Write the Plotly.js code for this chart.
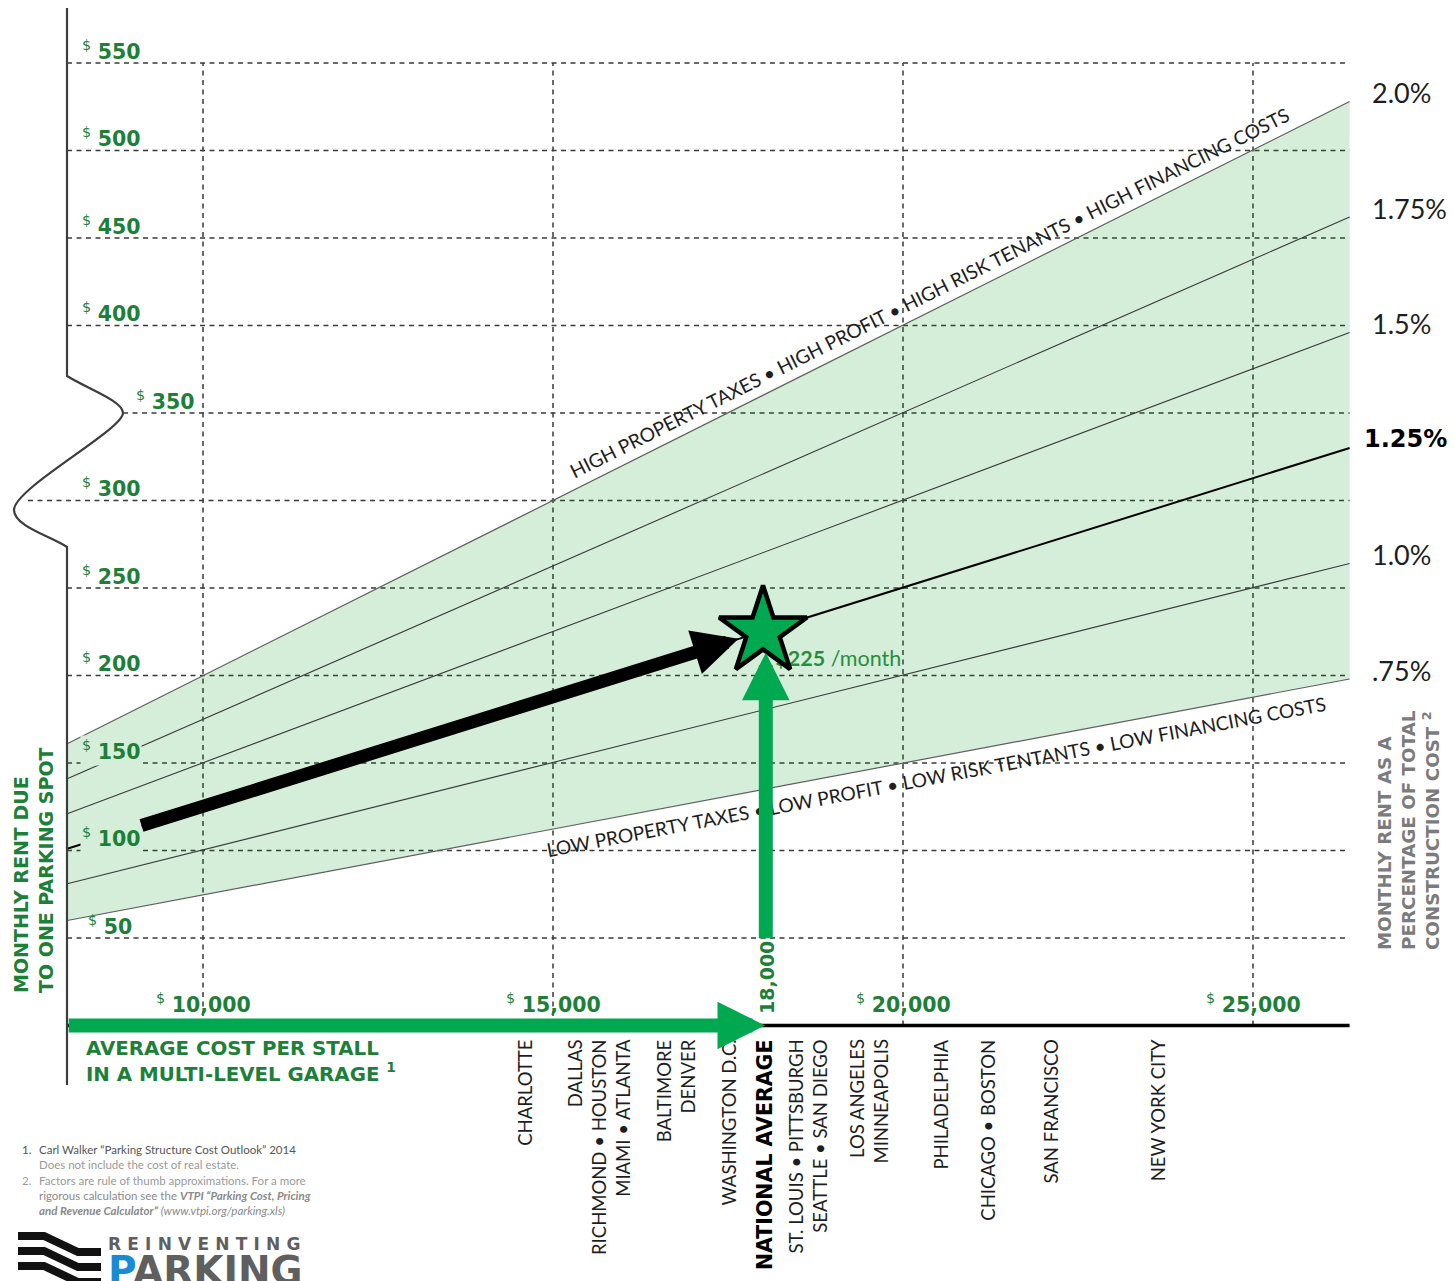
<!DOCTYPE html>
<html><head><meta charset="utf-8">
<script src="https://cdn.plot.ly/plotly-3.0.1.min.js"></script>
<style>html,body{margin:0;padding:0;background:#fff}#chart{width:1454px;height:1281px}</style>
</head><body><div id="chart"></div>
<script>
// ---------------- data ----------------
const rentTicks = [50, 100, 150, 200, 250, 300, 350, 400, 450, 500, 550];
const costTicks = [10000, 15000, 20000, 25000];
const costTickText = ['10,000', '15,000', '20,000', '25,000'];
const costEnds = [8060, 26380];
const rent075 = [60, 198];
const rent100 = [81, 264];
const rent125 = [101, 330];
const rent150 = [121, 396];
const rent175 = [141, 462];
const rent200 = [161, 528];
const pctLabels = ['.75%', '1.0%', '1.25%', '1.5%', '1.75%', '2.0%'];
const nationalCost = [18000];
const nationalRent = [225];
const nationalLabel = ['<b>$225</b> /month'];
const cityNames = [
  'CHARLOTTE',
  'DALLAS<br>RICHMOND • HOUSTON<br>MIAMI • ATLANTA',
  'BALTIMORE<br>DENVER',
  'WASHINGTON D.C.',
  'NATIONAL AVERAGE',
  'ST. LOUIS • PITTSBURGH<br>SEATTLE • SAN DIEGO',
  'LOS ANGELES<br>MINNEAPOLIS',
  'PHILADELPHIA',
  'CHICAGO • BOSTON',
  'SAN FRANCISCO',
  'NEW YORK CITY'
];
const cityCost = [14590, 15650, 16760, 17500, 18030, 18630, 19500, 20530, 21210, 22100, 23640];
const blackArrowCost = [9100, 17650];
const blackArrowRent = [114, 221];
const upArrowCost = [18040, 18040];
const upArrowRent = [49, 213];
const rightArrowCost = [8060, 18030];
const rightArrowRent = [0, 0];
const highText = 'HIGH PROPERTY TAXES • HIGH PROFIT • HIGH RISK TENANTS • HIGH FINANCING COSTS';
const lowText = 'LOW PROPERTY TAXES • LOW PROFIT • LOW RISK TENTANTS • LOW FINANCING COSTS';

// ---------------- geometry helpers ----------------
const W = 1454, H = 1281;
const PXperCost = 0.07, PXperRent = 1.75;
const X = px => 10000 + (px - 203) / PXperCost;
const Y = py => (1025.5 - py) / PXperRent;
const PX = px => px / W;
const PY = py => 1 - py / H;
const lerp = (arr, c) => arr[0] + (arr[1] - arr[0]) * (c - costEnds[0]) / (costEnds[1] - costEnds[0]);
const angleOf = arr => -Math.atan((arr[1] - arr[0]) * PXperRent / ((costEnds[1] - costEnds[0]) * PXperCost)) * 180 / Math.PI;
const boldLines = s => s.split('<br>').map(l => '<b>' + l + '</b>').join('<br>');

const FONT = 'Lato, "Open Sans", sans-serif';
const HEAVY = '"DejaVu Sans", Lato, sans-serif';
const GREEN_TXT = '#1d8039';
const GREEN = '#00a94f';
const BAND_SOLID = 'rgb(213,238,218)';

// ---------------- traces ----------------
const lineTrace = (ys, color, width) => ({
  x: costEnds, y: ys, type: 'scatter', mode: 'lines',
  line: {color: color, width: width}, hoverinfo: 'skip', showlegend: false
});
const traces = [];
traces.push(lineTrace(rent075, '#5e5e5e', 1.2));
const upper = lineTrace(rent200, '#5e5e5e', 1.2);
upper.fill = 'tonexty';
upper.fillcolor = 'rgba(0,150,30,0.165)';
traces.push(upper);
traces.push(lineTrace(rent100, '#3a3a3a', 1.1));
traces.push(lineTrace(rent150, '#3a3a3a', 1.1));
traces.push(lineTrace(rent175, '#3a3a3a', 1.1));
traces.push(lineTrace(rent125, '#000000', 2));
traces.push({
  x: [nationalCost[0] + 175], y: [nationalRent[0] - 16.7], text: nationalLabel,
  type: 'scatter', mode: 'text', textposition: 'middle right',
  textfont: {family: FONT, size: 21.5, color: '#2a8c40'}, hoverinfo: 'skip', showlegend: false
});
traces.push({
  x: nationalCost, y: nationalRent, type: 'scatter', mode: 'markers',
  marker: {symbol: 'star', size: 66, color: GREEN, line: {color: '#000', width: 4.5}},
  hoverinfo: 'skip', showlegend: false
});

// ---------------- shapes ----------------
const shapes = [];
const gridLine = {color: '#3a3a3a', width: 1.5, dash: '5px,4.5px'};
rentTicks.forEach(v => {
  let startPx = 67;
  if (v === 350) startPx = 123;
  if (v === 300) startPx = 28;
  shapes.push({type: 'line', layer: 'below', x0: X(startPx), x1: costEnds[1], y0: v, y1: v, line: gridLine});
});
costTicks.forEach(c => {
  shapes.push({type: 'line', layer: 'below', x0: c, x1: c, y0: 0, y1: rentTicks[rentTicks.length - 1], line: gridLine});
});
// x axis line
shapes.push({type: 'line', layer: 'above', x0: costEnds[0], x1: costEnds[1], y0: 0, y1: 0, line: {color: '#000', width: 3.5}});
// left axis with break squiggle
const P = (px, py) => X(px) + ',' + Y(py);
const axisPath = 'M' + P(67, 8) + ' L' + P(67, 376) +
  ' C' + P(88, 389) + ' ' + P(123, 401) + ' ' + P(123, 413) +
  ' C' + P(123, 430) + ' ' + P(14, 488) + ' ' + P(14, 510) +
  ' C' + P(14, 526) + ' ' + P(50, 536) + ' ' + P(67, 547) +
  ' L' + P(67, 1085);
shapes.push({type: 'path', layer: 'above', path: axisPath, line: {color: '#3d3d3d', width: 2.2}});
// logo stripes
[0, 15, 30].forEach(o => {
  const q = (px, py) => PX(px) + ',' + PY(py + o);
  shapes.push({type: 'path', xref: 'paper', yref: 'paper', layer: 'above',
    path: 'M' + q(18, 1236) + ' L' + q(44, 1236) + ' L' + q(78, 1252) + ' L' + q(101, 1252),
    line: {color: '#111', width: 8}});
});

// ---------------- annotations ----------------
const ann = [];
// y tick labels
const labelCost = X(110);
rentTicks.forEach(v => {
  let px = 80;
  if (v === 350) px = 134;
  if (v === 50) px = 86;
  const inBand = v > lerp(rent075, labelCost) && v < lerp(rent200, labelCost);
  ann.push({x: X(px), y: v, text: '<sup>$</sup> <b>' + v + '</b>', showarrow: false,
    xanchor: 'left', yanchor: 'middle', yshift: 13, borderpad: 1,
    bgcolor: inBand ? BAND_SOLID : 'rgba(0,0,0,0)',
    font: {family: HEAVY, size: 20.5, color: GREEN_TXT}});
});
// x tick labels
costTicks.forEach((c, i) => {
  ann.push({x: c, y: 0, text: '<sup>$</sup> <b>' + costTickText[i] + '</b>', showarrow: false,
    xanchor: 'center', yanchor: 'middle', yshift: 22,
    font: {family: HEAVY, size: 20.5, color: GREEN_TXT}});
});
ann.push({x: nationalCost[0], y: 0, text: '<b>18,000</b>', textangle: -90, showarrow: false,
  xanchor: 'center', yanchor: 'bottom', yshift: 9, xshift: 4,
  font: {family: HEAVY, size: 19, color: GREEN_TXT}});
// percentage labels at right end
const allRents = [rent075, rent100, rent125, rent150, rent175, rent200];
pctLabels.forEach((t, i) => {
  const isKey = t === '1.25%';
  ann.push({x: costEnds[1], y: allRents[i][1], text: isKey ? '<b>' + t + '</b>' : t,
    showarrow: false, xanchor: 'left', yanchor: 'middle', xshift: isKey ? 12 : 20, yshift: 9,
    font: {family: isKey ? HEAVY : FONT, size: isKey ? 24 : 27, color: isKey ? '#000' : '#1e1e1e'}});
});
// text along the band edges
const hc = 20380, lc = 20470;
ann.push({x: hc, y: lerp(rent200, hc), text: highText, textangle: angleOf(rent200), showarrow: false,
  xanchor: 'center', yanchor: 'middle', yshift: 19, font: {family: FONT, size: 19.2, color: '#1e1e1e'}});
ann.push({x: lc, y: lerp(rent075, lc), text: lowText, textangle: angleOf(rent075), showarrow: false,
  xanchor: 'center', yanchor: 'middle', yshift: -20, font: {family: FONT, size: 19.2, color: '#1e1e1e'}});
// cities
cityNames.forEach((n, i) => {
  const isNat = i === 4;
  ann.push({x: cityCost[i], y: 0, text: isNat ? '<b>' + n + '</b>' : n, textangle: -90, align: 'right', showarrow: false,
    xanchor: 'center', yanchor: 'top', yshift: -12,
    font: {family: isNat ? HEAVY : FONT, size: isNat ? 20.5 : 18.5, color: isNat ? '#000' : '#1e1e1e'}});
});
// axis titles
ann.push({xref: 'paper', yref: 'paper', x: PX(33), y: PY(870),
  text: boldLines('MONTHLY RENT DUE<br>TO ONE PARKING SPOT'),
  textangle: -90, align: 'left', showarrow: false, xanchor: 'center', yanchor: 'middle',
  font: {family: HEAVY, size: 19, color: GREEN_TXT}});
ann.push({xref: 'paper', yref: 'paper', x: PX(1408), y: PY(830),
  text: boldLines('MONTHLY RENT AS A<br>PERCENTAGE OF TOTAL<br>CONSTRUCTION COST <sup>2</sup>'),
  textangle: -90, align: 'left', showarrow: false, xanchor: 'center', yanchor: 'middle',
  font: {family: HEAVY, size: 18.3, color: '#7b7b7b'}});
ann.push({xref: 'paper', yref: 'paper', x: PX(84), y: PY(1061),
  text: boldLines('AVERAGE COST PER STALL<br>IN A MULTI-LEVEL GARAGE <sup>1</sup>'),
  align: 'left', showarrow: false, xanchor: 'left', yanchor: 'middle',
  font: {family: HEAVY, size: 19.8, color: GREEN_TXT}});
// footnotes
const foot = [
  [20, 1149, '1.', '#555'],
  [37, 1149, 'Carl Walker “Parking Structure Cost Outlook” 2014', '#555'],
  [37, 1164, 'Does not include the cost of real estate.', '#9a9a9a'],
  [20, 1180, '2.', '#9a9a9a'],
  [37, 1180, 'Factors are rule of thumb approximations. For a more', '#9a9a9a'],
  [37, 1195, 'rigorous calculation see the <b><i>VTPI “Parking Cost, Pricing</i></b>', '#8a8a8a'],
  [37, 1210, '<b><i>and Revenue Calculator”</i></b> <i>(www.vtpi.org/parking.xls)</i>', '#8a8a8a']
];
foot.forEach(f => ann.push({xref: 'paper', yref: 'paper', x: PX(f[0]), y: PY(f[1]), text: f[2],
  showarrow: false, xanchor: 'left', yanchor: 'middle', font: {family: FONT, size: 11.5, color: f[3]}}));
// logo text (one two-line block)
ann.push({xref: 'paper', yref: 'paper', x: PX(106), y: PY(1232),
  text: '<b><span style="font-size:17px;letter-spacing:6.2px">REINVENTING</span></b><br>' +
        '<b><span style="font-size:39px"><span style="color:#1a8ad4">P</span>ARKING</span></b>',
  showarrow: false, align: 'left', xanchor: 'left', yanchor: 'top',
  font: {family: HEAVY, size: 26, color: '#5f5f5f'}});
// arrows
ann.push({x: blackArrowCost[1], y: blackArrowRent[1], ax: blackArrowCost[0], ay: blackArrowRent[0],
  axref: 'x', ayref: 'y', text: '', showarrow: true, arrowhead: 2, arrowsize: 0.7, arrowwidth: 13,
  arrowcolor: '#000', standoff: 0});
ann.push({x: upArrowCost[1], y: upArrowRent[1], ax: upArrowCost[0], ay: upArrowRent[0],
  axref: 'x', ayref: 'y', text: '', showarrow: true, arrowhead: 2, arrowsize: 0.68, arrowwidth: 14,
  arrowcolor: GREEN, standoff: 0});
ann.push({x: rightArrowCost[1], y: rightArrowRent[1], ax: rightArrowCost[0], ay: rightArrowRent[0],
  axref: 'x', ayref: 'y', text: '', showarrow: true, arrowhead: 2, arrowsize: 0.68, arrowwidth: 14,
  arrowcolor: GREEN, standoff: 0});

const layout = {
  width: W, height: H, autosize: false,
  margin: {l: 0, r: 0, t: 0, b: 0, pad: 0},
  paper_bgcolor: '#fff', plot_bgcolor: '#fff', showlegend: false,
  xaxis: {range: [X(0), X(W)], showgrid: false, zeroline: false, showticklabels: false, showline: false, ticks: '', fixedrange: true},
  yaxis: {range: [Y(H), Y(0)], showgrid: false, zeroline: false, showticklabels: false, showline: false, ticks: '', fixedrange: true},
  shapes: shapes, annotations: ann,
  font: {family: FONT}
};
Plotly.newPlot('chart', traces, layout, {displayModeBar: false, staticPlot: true});
</script>
</body></html>
